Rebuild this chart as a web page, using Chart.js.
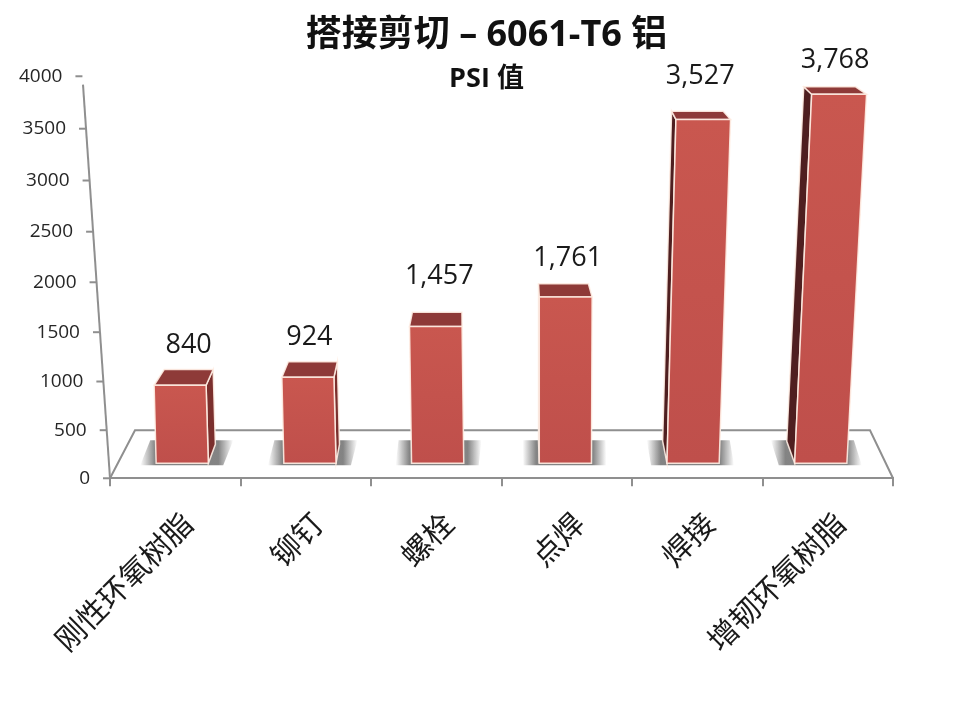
<!DOCTYPE html>
<html>
<head>
<meta charset="utf-8">
<title>搭接剪切</title>
<script src="https://cdn.jsdelivr.net/npm/chart.js@4"></script>
<style>
  body { margin: 0; background: #fff; }
</style>
</head>
<body>
<canvas id="shearChart" width="968" height="708"></canvas>
<script>
const categories = ['刚性环氧树脂', '铆钉', '螺栓', '点焊', '焊接', '增韧环氧树脂'];
const psiValues = [840, 924, 1457, 1761, 3527, 3768];
const axisMax = 4000;
const axisStep = 500;
const chartTitle = '搭接剪切 – 6061-T6 铝';
const chartSubtitle = 'PSI 值';

const FONT = '"Open Sans", "Noto Sans CJK SC", sans-serif';
const CJK_FONT = '"Noto Sans CJK SC", sans-serif';
const LINE = '#8f8f8f';

// how much each column leans in the fake perspective
const barLean = [-0.026, -0.023, -0.015, 0, 0.026, 0.046];
// value label nudges relative to the top of each column
const labelShift = [[8.5, -24], [1.5, -24], [3.5, -36], [2, -25], [-3, -35], [-4, -27]];

// linear scale bent a little, the 3D view squeezes the low values
class PerspectiveScale extends Chart.LinearScale {
  getPixelForValue(v) {
    const o = this.options;
    return this.bottom - o.floorInset - (o.curveA * v + o.curveB * v * v);
  }
}
PerspectiveScale.id = 'perspective';
PerspectiveScale.defaults = Chart.LinearScale.defaults;
Chart.register(PerspectiveScale);

function poly(ctx, pts, fill, stroke) {
  ctx.beginPath();
  pts.forEach((p, i) => i ? ctx.lineTo(p[0], p[1]) : ctx.moveTo(p[0], p[1]));
  ctx.closePath();
  if (fill) { ctx.fillStyle = fill; ctx.fill(); }
  if (stroke) {
    ctx.strokeStyle = stroke;
    ctx.lineWidth = 1.5;
    ctx.stroke();
  }
}

function columnGeometry(el, i) {
  const x0 = el.x + (502 - el.x) * 0.0214;
  const h = el.base - el.y;
  const xl = x0 - el.width / 2;
  const xr = x0 + el.width / 2;
  const dx = barLean[i] * h;
  const tl = xl + dx;
  const tr = xr + dx + h * 0.01 - 1;
  const depth = 18 - 0.0285 * h;
  const backL = (540 - el.x) * 0.0275;
  const backR = backL - 3;
  return { x0, xl, xr, tl, tr, depth, backL, backR, top: el.y, base: el.base };
}

const column3d = {
  id: 'column3d',
  beforeDatasetsDraw(chart) {
    // floor of the 3D box
    const { ctx, chartArea: a } = chart;
    ctx.save();
    ctx.beginPath();
    ctx.moveTo(a.left, a.bottom);
    ctx.lineTo(a.left + 25, a.bottom - 48);
    ctx.lineTo(a.right - 23, a.bottom - 48);
    ctx.lineTo(a.right, a.bottom);
    ctx.strokeStyle = LINE;
    ctx.lineWidth = 2;
    ctx.stroke();
    ctx.restore();
  },
  beforeDatasetDraw(chart, args) {
    const { ctx } = chart;
    const edge = 'rgba(255,238,228,0.9)';
    ctx.save();
    args.meta.data.forEach((el, i) => {
      const g = columnGeometry(el, i);
      // shadow on the floor
      const sl = g.x0 - 42, sr = g.x0 + 41, s = g.backL;
      const shade = ctx.createLinearGradient(Math.min(sl, sl + s), 0, Math.max(sr, sr + s), 0);
      shade.addColorStop(0, 'rgba(125,125,125,0)');
      shade.addColorStop(0.16, 'rgba(125,125,125,0.95)');
      shade.addColorStop(0.84, 'rgba(125,125,125,0.95)');
      shade.addColorStop(1, 'rgba(125,125,125,0)');
      poly(ctx, [[sl, g.base + 2], [sl + s, g.base - 23], [sr + s, g.base - 23], [sr, g.base + 2]], shade);

      if (g.backR > 1) {
        poly(ctx, [[g.tr, g.top], [g.tr + g.backR, g.top - g.depth], [g.xr + g.backR, g.base - 19], [g.xr, g.base]], '#7b2f2d', edge);
      }
      if (g.backL < -0.5) {
        poly(ctx, [[g.tl, g.top], [g.tl + g.backL, g.top - g.depth], [g.xl + g.backL, g.base - 22], [g.xl, g.base]], '#4f1f20', edge);
      }
      poly(ctx, [[g.tl, g.top], [g.tl + g.backL, g.top - g.depth], [g.tr + g.backR, g.top - g.depth], [g.tr, g.top]], '#8e3a38', edge);

      const face = ctx.createLinearGradient(0, g.top, 0, g.base);
      face.addColorStop(0, '#c9574f');
      face.addColorStop(1, '#bf4f4b');
      poly(ctx, [[g.tl, g.top], [g.tr, g.top], [g.xr, g.base], [g.xl, g.base]], face, edge);
    });
    ctx.restore();
    return false;
  },
  afterDatasetsDraw(chart) {
    const { ctx, chartArea: a } = chart;
    const y = chart.scales.y;
    const slant = 27;
    const axisX = py => a.left - slant + slant * (py - a.top) / (a.bottom - a.top);
    ctx.save();

    // slanted value axis
    ctx.strokeStyle = LINE;
    ctx.lineWidth = 2;
    ctx.beginPath();
    ctx.moveTo(axisX(a.top), a.top);
    ctx.lineTo(axisX(a.bottom), a.bottom);
    ctx.stroke();

    ctx.font = '19px ' + FONT;
    ctx.fillStyle = '#262626';
    ctx.textAlign = 'right';
    ctx.textBaseline = 'middle';
    y.ticks.forEach(t => {
      const py = y.getPixelForValue(t.value);
      ctx.beginPath();
      ctx.moveTo(axisX(py), py);
      ctx.lineTo(axisX(py) - 7, py);
      ctx.stroke();
      ctx.fillText(String(t.value), axisX(py) - 20, py);
    });

    // value labels above the columns
    ctx.font = '27px ' + FONT;
    ctx.fillStyle = '#1a1a1a';
    ctx.textAlign = 'center';
    chart.getDatasetMeta(0).data.forEach((el, i) => {
      const g = columnGeometry(el, i);
      const cx = (g.tl + g.tr) / 2 + labelShift[i][0];
      const cy = g.top - g.depth + labelShift[i][1];
      ctx.fillText(psiValues[i].toLocaleString('en-US'), cx, cy);
    });
    ctx.restore();
  }
};

new Chart(document.getElementById('shearChart').getContext('2d'), {
  type: 'bar',
  data: {
    labels: categories,
    datasets: [{
      label: 'PSI',
      data: psiValues,
      yAxisID: 'yBars',
      backgroundColor: '#c0504d',
      barPercentage: 0.4,
      categoryPercentage: 1
    }]
  },
  plugins: [column3d],
  options: {
    responsive: false,
    animation: false,
    layout: { padding: { left: 80, right: 75, bottom: 31 } },
    plugins: {
      legend: { display: false },
      tooltip: { enabled: false },
      title: {
        display: true,
        text: chartTitle,
        color: '#111',
        font: { family: FONT, size: 36, weight: 'bold' },
        padding: { top: 14, bottom: 0 }
      },
      subtitle: {
        display: true,
        text: chartSubtitle,
        color: '#111',
        font: { family: FONT, size: 27, weight: 'bold' },
        padding: { top: 6, bottom: -11 }
      }
    },
    scales: {
      x: {
        grid: { color: LINE, lineWidth: 2, tickLength: 8, drawOnChartArea: false },
        border: { color: LINE, width: 2 },
        ticks: {
          color: '#1a1a1a',
          font: { family: CJK_FONT, size: 30 },
          minRotation: 45,
          maxRotation: 45,
          padding: 19,
          labelOffset: 12
        }
      },
      y: {
        type: 'perspective',
        grid: { display: false },
        border: { display: false },
        min: 0,
        max: axisMax,
        ticks: { stepSize: axisStep, display: false },
        afterFit(scale) { scale.width = 30; },
        floorInset: 0,
        curveA: 0.0955,
        curveB: 1.25e-6
      },
      yBars: {
        type: 'perspective',
        display: false,
        min: 0,
        max: axisMax,
        floorInset: 15,
        curveA: 0.0914,
        curveB: 1.73e-6
      }
    }
  }
});
</script>
</body>
</html>
